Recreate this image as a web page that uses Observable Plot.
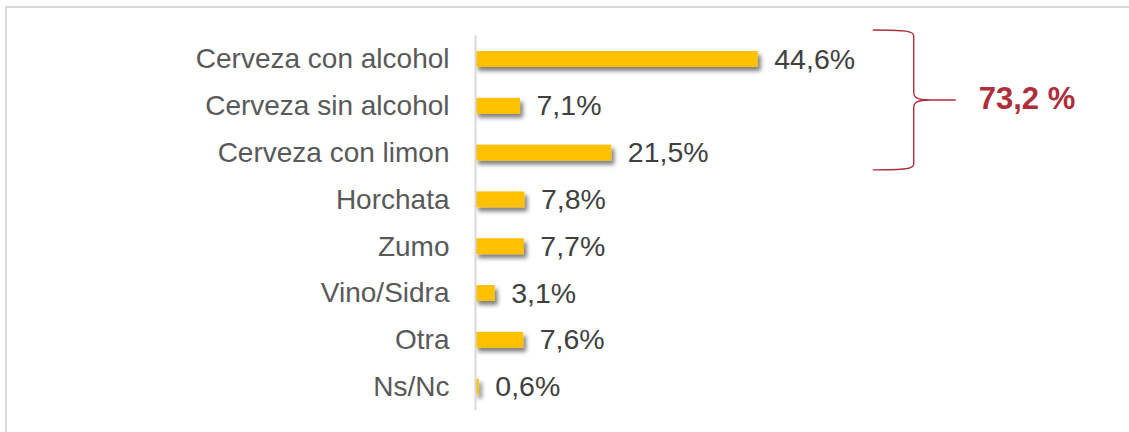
<!DOCTYPE html>
<html>
<head>
<meta charset="utf-8">
<script src="https://cdn.jsdelivr.net/npm/d3@7"></script>
<script src="https://cdn.jsdelivr.net/npm/@observablehq/plot@0.6"></script>
<style>
html, body { margin: 0; padding: 0; background: #fff; overflow: hidden; width: 1129px; height: 432px; }
#chart { position: absolute; left: 0; top: 0; }
#frame { position: absolute; left: 5px; top: 6px; width: 1200px; height: 500px; border: 2px solid #d9d9d9; box-sizing: border-box; pointer-events: none; }
</style>
</head>
<body>
<div id="chart"></div>
<div id="frame"></div>
<script>
// Data
const categories = ["Cerveza con alcohol", "Cerveza sin alcohol", "Cerveza con limon", "Horchata", "Zumo", "Vino/Sidra", "Otra", "Ns/Nc"];
const values = [44.6, 7.1, 21.5, 7.8, 7.7, 3.1, 7.6, 0.6];
const groupedCategories = ["Cerveza con alcohol", "Cerveza sin alcohol", "Cerveza con limon"];

(function () {
  const fmt = v => v.toFixed(1).replace(".", ",") + "%";
  const data = categories.map((c, i) => ({ category: c, value: values[i], label: fmt(values[i]) }));
  const groupTotal = d3.sum(data.filter(d => groupedCategories.includes(d.category)), d => d.value);

  const barColor = "#FFC000";
  const accent = "#AF2E3B";

  const plot = Plot.plot({
    width: 1129,
    height: 432,
    marginLeft: 475,
    marginRight: 20,
    marginTop: 35.6,
    marginBottom: 22,
    style: { fontFamily: "'Liberation Sans', Arial, sans-serif", fontSize: "28px", color: "#595959", background: "transparent" },
    x: { domain: [0, 100], axis: null },
    y: { domain: categories, paddingInner: 0.66, paddingOuter: 0.33, round: false, tickSize: 0, tickPadding: 26, label: null },
    marks: [
      Plot.barX(data, { x: "value", y: "category", fill: barColor }),
      Plot.ruleX([0], { stroke: "#d9d9d9", strokeWidth: 2 }),
      Plot.text(data, { x: "value", y: "category", text: "label", textAnchor: "start", dx: 16, fill: "#404040", fontSize: 28.5 })
    ]
  });

  document.getElementById("chart").appendChild(plot);

  const svg = d3.select(plot);
  svg.insert("defs", ":first-child").html(
    '<filter id="barShadow" x="-10%" y="-20%" width="120%" height="140%">' +
    '<feDropShadow dx="3" dy="4" stdDeviation="2.2" flood-color="#000" flood-opacity="0.5"/></filter>'
  );
  svg.select('g[aria-label="bar"]').attr("filter", "url(#barShadow)");

  // Bracket annotation positioned through the plot's scales
  const xs = plot.scale("x"), ys = plot.scale("y");
  const step = ys.step ?? (ys.bandwidth / (1 - 0.66));
  const center = c => ys.apply(c) + ys.bandwidth / 2;
  const yTop = center(groupedCategories[0]) - 0.62 * step;
  const yBottom = center(groupedCategories[groupedCategories.length - 1]) + 0.37 * step;
  const yMid = (yTop + yBottom) / 2;
  const vx = xs.apply(69.2);
  const lx = vx - 41;
  const path = [
    `M${lx},${yTop}`,
    `C${vx - 8},${yTop} ${vx},${yTop + 1} ${vx},${yTop + 6}`,
    `L${vx},${yMid - 8}`,
    `C${vx},${yMid - 2} ${vx + 4},${yMid} ${vx + 16},${yMid}`,
    `L${vx + 42},${yMid}`,
    `M${vx + 16},${yMid}`,
    `C${vx + 4},${yMid} ${vx},${yMid + 2} ${vx},${yMid + 8}`,
    `L${vx},${yBottom - 6}`,
    `C${vx},${yBottom - 1} ${vx - 8},${yBottom} ${lx},${yBottom}`
  ].join(" ");
  svg.append("path").attr("d", path).attr("fill", "none").attr("stroke", accent).attr("stroke-width", 1.4);
  svg.append("text")
    .attr("x", vx + 65)
    .attr("y", yMid)
    .attr("dy", "0.3em")
    .attr("text-anchor", "start")
    .attr("fill", accent)
    .attr("font-weight", "bold")
    .attr("font-size", 31)
    .attr("font-family", "'Liberation Sans', Arial, sans-serif")
    .text(groupTotal.toFixed(1).replace(".", ",") + " %");
})();
</script>
</body>
</html>
